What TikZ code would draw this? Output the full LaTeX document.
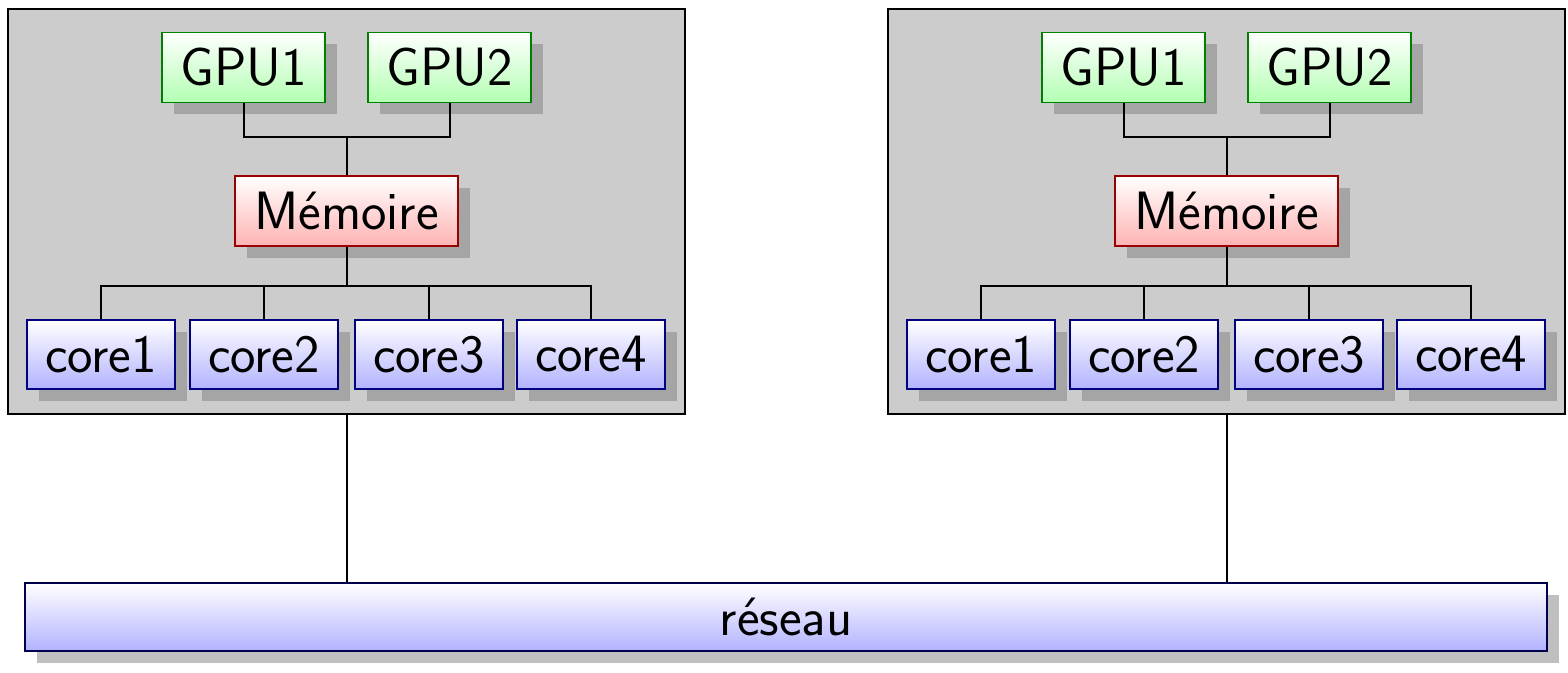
\documentclass[tikz,border=0pt]{standalone}
\usepackage{fontspec}
\usetikzlibrary{shadows, calc, positioning}

\tikzset{
  unit/.style={draw, line width=0.7pt, inner sep=0pt, minimum height=35pt,
    font=\sffamily\fontsize{27}{31}\selectfont,
    drop shadow={shadow xshift=6pt, shadow yshift=-6pt}},
  gpu/.style={unit, draw=green!50!black, top color=white, bottom color=green!30, minimum width=81.5pt},
  mem/.style={unit, draw=red!60!black, top color=white, bottom color=red!30, minimum width=111.5pt},
  core/.style={unit, draw=blue!50!black, top color=white, bottom color=blue!30, minimum width=74pt, minimum height=34.5pt},
  net/.style={unit, draw=blue!30!black, top color=white, bottom color=blue!30, minimum width=761pt, minimum height=34pt},
  machine/.style={draw, line width=0.7pt, fill=black!20, minimum width=338.5pt, minimum height=202.5pt, inner sep=0pt},
  wire/.style={line width=1pt}
}

\begin{document}
\begin{tikzpicture}[x=0.5pt, y=-0.5pt]
  \useasboundingbox (0,0) rectangle (1568,673);

  \foreach \m/\dx in {A/0, B/880} {
    \begin{scope}[shift={(\dx,0)}]
      \node[machine] (box\m) at (346.5,211.5) {};

      \node[gpu] (gpuA\m) at (243.5,67.5) {GPU1};
      \node[gpu] (gpuB\m) at (449.5,67.5) {GPU2};
      \node[mem] (mem\m) at (346.5,211) {Mémoire};

      \node[core] (coreA\m) at (101,354.5) {core1};
      \node[core] (coreB\m) at (264,354.5) {core2};
      \node[core] (coreC\m) at (429,354.5) {core3};
      \node[core] (coreD\m) at (591,354.5) {core4};

      \coordinate (gbus\m) at (346.5,137);
      \coordinate (cbus\m) at (346.5,286);

      \draw[wire] (gpuA\m.south) |- (gbus\m) -- (mem\m.north);
      \draw[wire] (gpuB\m.south) |- (gbus\m);
      \draw[wire] (mem\m.south) -- (cbus\m);
      \foreach \c in {A,B,C,D}
        \draw[wire] (core\c\m.north) |- (cbus\m);
    \end{scope}
  }

  \node[net] (net) at (786,617) {réseau};

  \foreach \m in {A,B}
    \draw[wire] (box\m.south) -- (box\m.south |- net.north);
\end{tikzpicture}
\end{document}
